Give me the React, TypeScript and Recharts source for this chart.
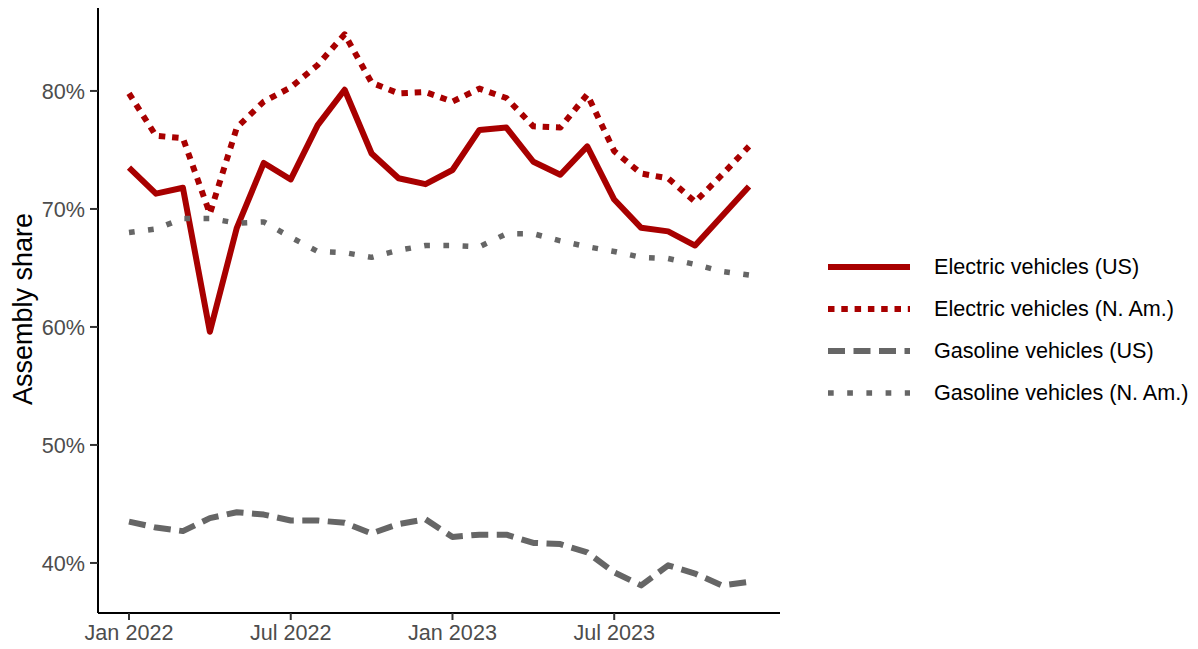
import React from 'react';
import { LineChart, Line, XAxis, YAxis } from 'recharts';

const months = [
  'Jan 2022', 'Feb 2022', 'Mar 2022', 'Apr 2022', 'May 2022', 'Jun 2022',
  'Jul 2022', 'Aug 2022', 'Sep 2022', 'Oct 2022', 'Nov 2022', 'Dec 2022',
  'Jan 2023', 'Feb 2023', 'Mar 2023', 'Apr 2023', 'May 2023', 'Jun 2023',
  'Jul 2023', 'Aug 2023', 'Sep 2023', 'Oct 2023', 'Nov 2023', 'Dec 2023',
];

const evUS = [73.5, 71.3, 71.8, 59.6, 68.4, 73.9, 72.5, 77.1, 80.1, 74.7, 72.6, 72.1,
  73.3, 76.7, 76.9, 74.0, 72.9, 75.3, 70.8, 68.4, 68.1, 66.9, 69.4, 71.9];
const evNA = [79.8, 76.2, 76.0, 69.6, 76.9, 79.1, 80.3, 82.2, 84.8, 80.7, 79.8, 79.9,
  79.1, 80.2, 79.4, 77.0, 76.9, 79.7, 74.9, 73.0, 72.6, 70.6, 72.9, 75.3];
const gasUS = [43.5, 43.0, 42.7, 43.8, 44.3, 44.1, 43.6, 43.6, 43.4, 42.5, 43.3, 43.7,
  42.2, 42.4, 42.4, 41.7, 41.6, 40.9, 39.2, 38.1, 39.8, 39.1, 38.1, 38.4];
const gasNA = [68.0, 68.3, 69.2, 69.2, 68.8, 68.9, 67.6, 66.4, 66.3, 65.9, 66.5, 66.9,
  66.9, 66.8, 67.9, 67.9, 67.3, 66.8, 66.4, 65.9, 65.8, 65.3, 64.7, 64.4];

const xTicks = [0, 6, 12, 18];
const yTicks = [40, 50, 60, 70, 80];

const data = months.map((m, i) => ({
  i,
  month: m,
  evUS: evUS[i],
  evNA: evNA[i],
  gasUS: gasUS[i],
  gasNA: gasNA[i],
}));

const RED = '#a80000';
const GRAY = '#666666';
const FONT = '"Liberation Sans", Arial, sans-serif';

const series = [
  { key: 'evUS', name: 'Electric vehicles (US)', color: RED, width: 6, dash: undefined as string | undefined },
  { key: 'evNA', name: 'Electric vehicles (N. Am.)', color: RED, width: 6, dash: '6.5 6.8' },
  { key: 'gasUS', name: 'Gasoline vehicles (US)', color: GRAY, width: 6, dash: '17 8.5' },
  { key: 'gasNA', name: 'Gasoline vehicles (N. Am.)', color: GRAY, width: 5.5, dash: '5.7 13.5' },
];

const tickStyle = { fill: '#4d4d4d', fontSize: 21.6, fontFamily: FONT };

export default function App() {
  return (
    <div style={{ position: 'absolute', left: 0, top: 0, width: 1198, height: 649, background: '#fff' }}>
      <LineChart
        width={1198}
        height={649}
        data={data}
        margin={{ top: 8, right: 418, bottom: 0, left: 0 }}
      >
        <XAxis
          dataKey="i"
          type="number"
          domain={[-1.15, 24.15]}
          allowDataOverflow
          ticks={xTicks}
          tickFormatter={(v: number) => months[v]}
          height={36}
          tickSize={7}
          tickMargin={5}
          stroke="#000"
          strokeWidth={2}
          tickLine={{ stroke: '#333', strokeWidth: 2 }}
          tick={tickStyle}
          interval={0}
        />
        <YAxis
          type="number"
          domain={[35.76, 87.03]}
          allowDataOverflow
          ticks={yTicks}
          tickFormatter={(v: number) => `${v}%`}
          width={98}
          tickSize={8}
          tickMargin={5}
          stroke="#000"
          strokeWidth={2}
          tickLine={{ stroke: '#333', strokeWidth: 2 }}
          tick={tickStyle}
          interval={0}
          label={{
            content: () => (
              <text
                x={32}
                y={309}
                transform="rotate(-90, 32, 309)"
                textAnchor="middle"
                fontSize={27}
                fontFamily={FONT}
                fill="#000"
              >
                Assembly share
              </text>
            ),
          }}
        />
        {series.map((s) => (
          <Line
            key={s.key}
            type="linear"
            dataKey={s.key}
            name={s.name}
            stroke={s.color}
            strokeWidth={s.width}
            strokeDasharray={s.dash}
            strokeLinejoin="round"
            dot={false}
            activeDot={false}
            isAnimationActive={false}
          />
        ))}
      </LineChart>
      <div style={{ position: 'absolute', left: 828, top: 246, fontFamily: FONT, fontSize: 21.6, color: '#000' }}>
        {series.map((s) => (
          <div key={s.key} style={{ display: 'flex', alignItems: 'center', height: 42 }}>
            <svg width={82} height={12} style={{ display: 'block' }}>
              <line
                x1={0}
                y1={6}
                x2={82}
                y2={6}
                stroke={s.color}
                strokeWidth={s.width}
                strokeDasharray={s.dash}
              />
            </svg>
            <span style={{ marginLeft: 24, whiteSpace: 'nowrap' }}>{s.name}</span>
          </div>
        ))}
      </div>
    </div>
  );
}
